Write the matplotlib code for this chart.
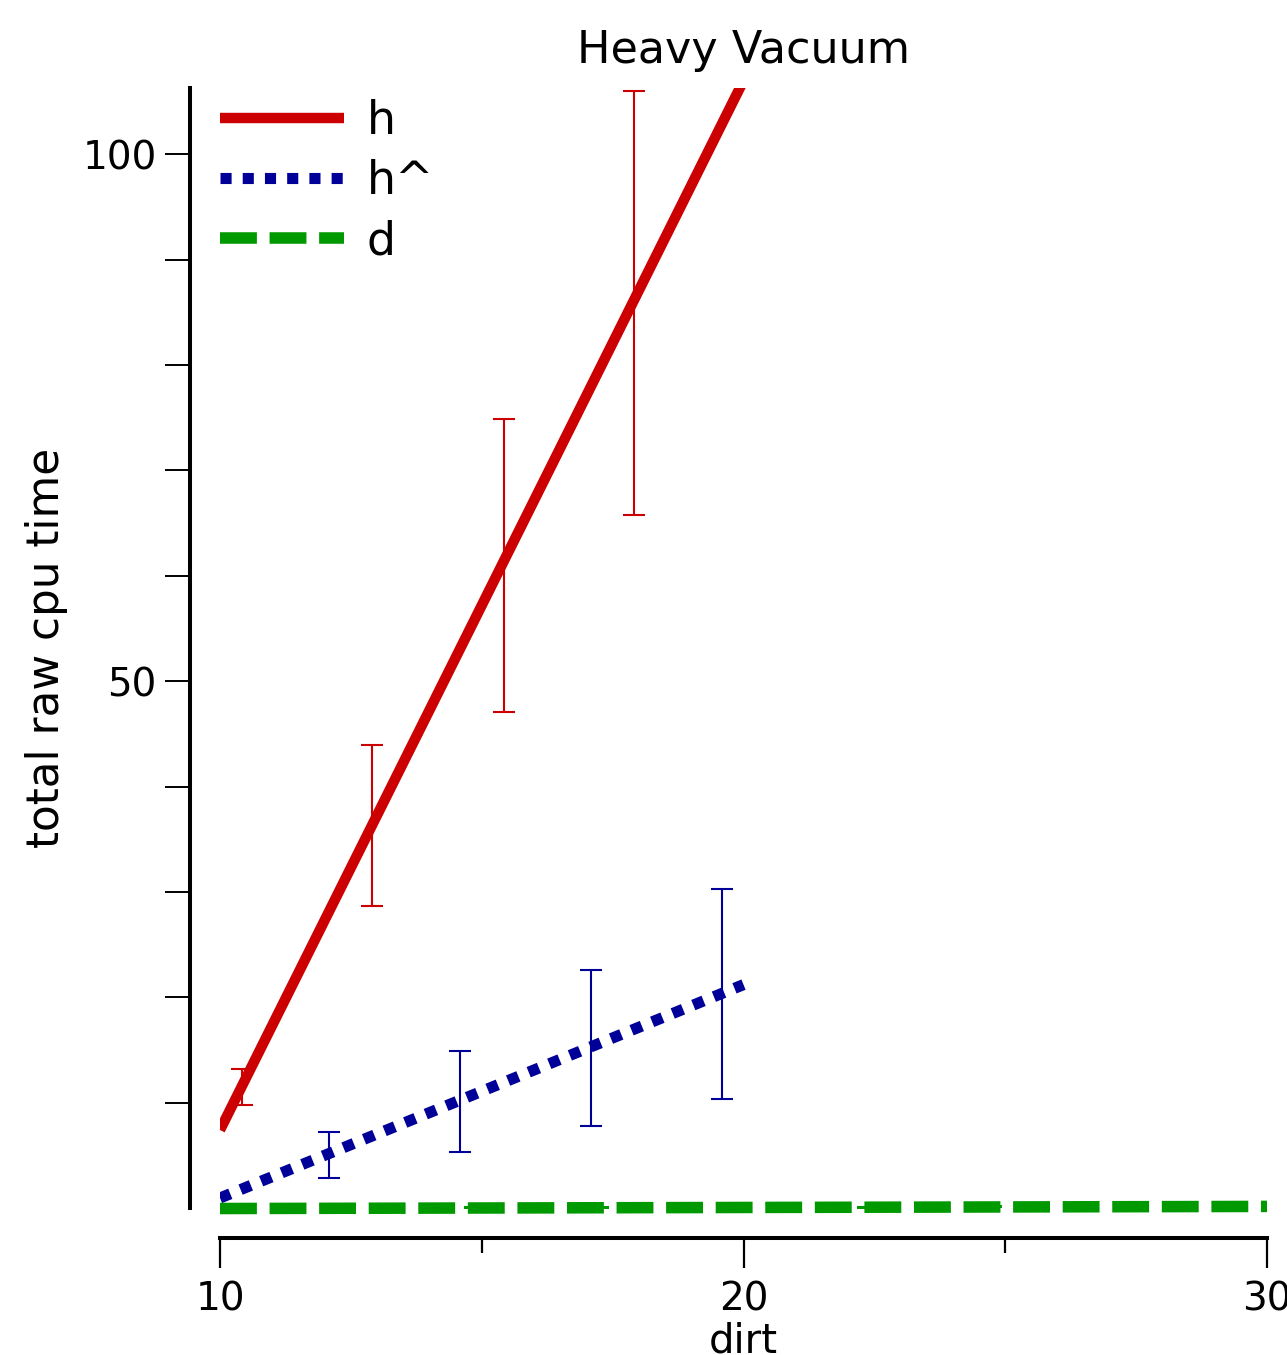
import matplotlib
matplotlib.use("Agg")
import matplotlib.pyplot as plt
from matplotlib.ticker import MultipleLocator, FixedLocator

# fitted lines (start / end of each series)
h_line_x = [10, 20]
h_line_y = [7.4, 107.0]
hh_line_x = [10, 20]
hh_line_y = [0.95, 21.2]
d_line_x = [10, 30]
d_line_y = [-0.05, 0.15]

# measured points with error bars
h_x = [10.42, 12.9, 15.42, 17.9]
h_mean = [11.5, 36.3, 61.0, 85.9]
h_err = [1.7, 7.6, 13.9, 20.1]

hh_x = [12.08, 14.58, 17.09, 19.59]
hh_mean = [5.0, 10.1, 15.2, 20.3]
hh_err = [2.2, 4.8, 7.4, 10.0]

d_x = [12.3, 14.8, 17.3, 19.8, 22.3, 24.8, 27.4]
d_mean = [0.0, 0.02, 0.04, 0.06, 0.08, 0.1, 0.12]
d_err = [0.05, 0.05, 0.05, 0.05, 0.05, 0.05, 0.05]

y_labeled = [50, 100]
y_minor = [10, 20, 30, 40, 60, 70, 80, 90]

red = "#cc0000"
blue = "#000099"
green = "#009900"

fig = plt.figure(figsize=(12.87, 13.55), dpi=100)
ax = fig.add_axes([220 / 1287, 1 - 1208 / 1355, 1047 / 1287, 1120 / 1355])

ax.plot(h_line_x, h_line_y, color=red, lw=7.5, solid_capstyle="butt", label="h")
ax.plot(hh_line_x, hh_line_y, color=blue, lw=8, linestyle=(0, (1, 1)), label="h^")
ax.plot(d_line_x, d_line_y, color=green, lw=8.3, linestyle=(0, (3.2, 1.1)),
        label="d", clip_on=False)

ax.errorbar(h_x, h_mean, yerr=h_err, fmt="none", ecolor=red, elinewidth=1.5,
            capsize=8, capthick=1.5)
ax.errorbar(hh_x, hh_mean, yerr=hh_err, fmt="none", ecolor=blue, elinewidth=1.5,
            capsize=8, capthick=1.5)
ax.errorbar(d_x, d_mean, yerr=d_err, fmt="none", ecolor=green, elinewidth=1.5,
            capsize=5, capthick=1.5, zorder=1)

ax.set_xlim(10, 30)
ax.set_ylim(0, 106.3)

# offset spines
for side in ["top", "right"]:
    ax.spines[side].set_visible(False)
ax.spines["left"].set_position(("outward", 21.6))
ax.spines["bottom"].set_position(("outward", 21.6))
ax.spines["left"].set_linewidth(2.9)
ax.spines["bottom"].set_linewidth(2.9)

ax.xaxis.set_major_locator(MultipleLocator(10))
ax.xaxis.set_minor_locator(MultipleLocator(5))
ax.yaxis.set_major_locator(FixedLocator(y_labeled))
ax.yaxis.set_minor_locator(FixedLocator(y_minor))
ax.tick_params(axis="x", which="major", length=21.6, width=1.6, labelsize=28, pad=9)
ax.tick_params(axis="x", which="minor", length=10.8, width=1.6)
ax.tick_params(axis="y", which="both", length=18, width=1.4, labelsize=28, pad=6)

ax.set_title("Heavy Vacuum", fontsize=32, pad=18)
ax.set_xlabel("dirt", fontsize=29, labelpad=2)
ax.set_ylabel("total raw cpu time", fontsize=31.5, labelpad=10)

ax.legend(loc="upper left", bbox_to_anchor=(0, 0.99), frameon=False, fontsize=33,
          handlelength=2.7, handletextpad=0.5, labelspacing=0.33,
          borderpad=0, borderaxespad=0)

plt.savefig("out.png", dpi=100)
